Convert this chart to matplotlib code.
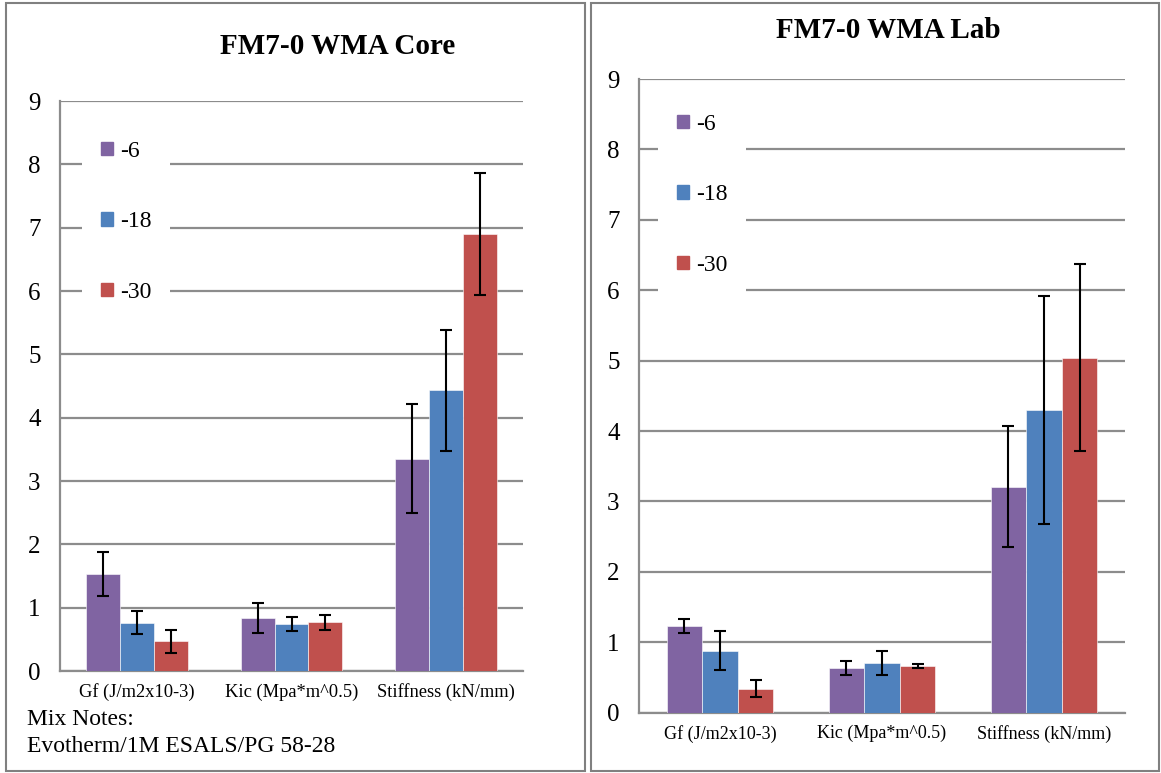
import numpy as np
import matplotlib
matplotlib.use("Agg")
from matplotlib import pyplot as plt
from matplotlib.patches import Rectangle, Patch

plt.rcParams['font.family'] = ['Liberation Serif', 'DejaVu Serif']

# 数据
categories = ['Gf (J/m2x10-3)', 'Kic (Mpa*m^0.5)', 'Stiffness (kN/mm)']
series = ['-6', '-18', '-30']
colors = ['#8064A2', '#4F81BD', '#C0504D']

core_vals = [[1.53, 0.84, 3.35],
             [0.76, 0.74, 4.43],
             [0.47, 0.77, 6.90]]
core_err = [[0.35, 0.24, 0.86],
            [0.18, 0.11, 0.95],
            [0.18, 0.12, 0.96]]

lab_vals = [[1.23, 0.63, 3.21],
            [0.88, 0.71, 4.30],
            [0.34, 0.66, 5.04]]
lab_err = [[0.10, 0.10, 0.86],
           [0.28, 0.17, 1.62],
           [0.12, 0.03, 1.33]]

W, H = 1161, 773
fig = plt.figure(figsize=(W / 100, H / 100), dpi=100)

def px_axes(x0, y0, x1, y1):
    # 像素坐标 -> figure 比例
    return fig.add_axes([x0 / W, 1 - y1 / H, (x1 - x0) / W, (y1 - y0) / H])

def draw_panel(ax, vals, errs, title, title_xy, leg_anchor, cat_size):
    x = np.arange(len(categories))
    w = 0.22
    for i, s in enumerate(series):
        ax.bar(x + (i - 1) * w, vals[i], w, color=colors[i], edgecolor='white',
               linewidth=0.4, label=s, zorder=3)
        ax.errorbar(x + (i - 1) * w, vals[i], yerr=errs[i], fmt='none',
                    ecolor='black', elinewidth=1.5, capsize=4.3, capthick=1.5, zorder=4)
    ax.set_xlim(-0.5, 2.5)
    ax.set_ylim(0, 9)
    ax.set_yticks(range(0, 10))
    ax.set_xticks(x)
    ax.set_xticklabels(categories, fontsize=cat_size)
    ax.tick_params(axis='y', length=0, pad=14, labelsize=18)
    ax.tick_params(axis='x', length=0, pad=9)
    ax.yaxis.grid(True, color='#8c8c8c', linewidth=1.6, zorder=0)
    ax.set_axisbelow(True)
    for sp in ['top', 'right']:
        ax.spines[sp].set_visible(False)
    for sp in ['left', 'bottom']:
        ax.spines[sp].set_color('#8c8c8c')
        ax.spines[sp].set_linewidth(1.6)
    handles = [Patch(color=c) for c in colors]
    leg = ax.legend(handles, series, loc='upper left', bbox_to_anchor=leg_anchor,
                    bbox_transform=fig.transFigure, fontsize=17, frameon=True,
                    facecolor='white', edgecolor='none', framealpha=1,
                    handlelength=0.5, handleheight=0.5, handletextpad=0.3,
                    labelspacing=2.1, borderpad=0.8, borderaxespad=0, fancybox=False)
    leg.set_zorder(5)
    fig.text(title_xy[0] / W, 1 - title_xy[1] / H, title, ha='center', va='baseline',
             fontsize=21, fontweight='bold')

ax1 = px_axes(60, 101, 523, 671)
draw_panel(ax1, core_vals, core_err, 'FM7-0 WMA Core', (338, 54), (82 / W, 1 - 122 / H), 13.3)

ax2 = px_axes(639, 79, 1125, 712.6)
draw_panel(ax2, lab_vals, lab_err, 'FM7-0 WMA Lab', (888, 38), (658 / W, 1 - 95 / H), 13)

fig.text(27 / W, 1 - 725 / H, 'Mix Notes:', fontsize=17, va='baseline')
fig.text(27 / W, 1 - 752 / H, 'Evotherm/1M ESALS/PG 58-28', fontsize=17, va='baseline')

# 外框
for (x0, y0, x1, y1) in [(6, 3, 585, 771), (591, 3, 1159, 771)]:
    fig.patches.append(Rectangle((x0 / W, 1 - y1 / H), (x1 - x0) / W, (y1 - y0) / H,
                                 transform=fig.transFigure, fill=False,
                                 edgecolor='#808080', linewidth=1.5))

fig.savefig('out.png', dpi=100, facecolor='white')
